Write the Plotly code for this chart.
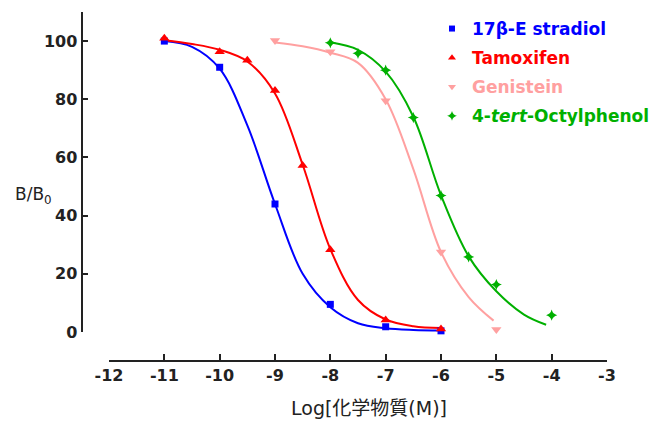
import plotly.graph_objects as go

# ---------------- data ----------------
series_names = [
    "<span style='color:#0000ff'>17β-E stradiol</span>",
    "<span style='color:#ff0000'>Tamoxifen</span>",
    "<span style='color:#ffa0a0'>Genistein</span>",
    "<span style='color:#00b000'>4-<i>tert</i>-Octylphenol</span>",
]

e2_x = [-11, -10, -9, -8, -7, -6]
e2_y = [100, 91, 44, 9.5, 1.8, 0.4]
e2_fit_x = [-11, -10.5, -10, -9.5, -9, -8.5, -8, -7.5, -7, -6.5, -6]
e2_fit_y = [100, 98, 90.5, 71, 44, 20, 8.5, 3, 1.3, 0.7, 0.5]

tam_x = [-11, -10, -9.5, -9, -8.5, -8, -7, -6]
tam_y = [101, 96.3, 93.4, 83, 57.2, 28.3, 4.1, 1]
tam_fit_x = [-11, -10.5, -10, -9.5, -9, -8.5, -8, -7.5, -7, -6.5, -6]
tam_fit_y = [100.3, 99, 97, 93, 82, 57.5, 28.5, 11, 4.3, 2, 1.4]

gen_x = [-9, -8, -7, -6, -5]
gen_y = [100.2, 96.3, 79.5, 27.5, 0.9]
gen_fit_x = [-9, -8.5, -8, -7.5, -7, -6.5, -6, -5.5, -5.05]
gen_fit_y = [99.5, 98.2, 96, 92.5, 80, 56, 27.5, 12, 3.9]

oct_x = [-8, -7.5, -7, -6.5, -6, -5.5, -5, -4]
oct_y = [99.4, 95.8, 90, 73.7, 46.9, 25.8, 16.3, 5.8]
oct_fit_x = [-8, -7.5, -7, -6.5, -6, -5.5, -5, -4.5, -4.1]
oct_fit_y = [99.6, 97, 89.5, 74, 47, 26, 14, 6, 2.5]

x_ticks = [-12, -11, -10, -9, -8, -7, -6, -5, -4, -3]
y_ticks = [0, 20, 40, 60, 80, 100]
y_end_tick = [110]

colors = ["#0000ff", "#ff0000", "#ffa0a0", "#00b000"]
symbols = ["square", "triangle-up", "triangle-down", "star-diamond"]
msize = [7, 9, 9, 8]
legsize = [6, 7, 7, 7]

pts = [(e2_x, e2_y), (tam_x, tam_y), (gen_x, gen_y), (oct_x, oct_y)]
fits = [(e2_fit_x, e2_fit_y), (tam_fit_x, tam_fit_y), (gen_fit_x, gen_fit_y), (oct_fit_x, oct_fit_y)]

W, H = 657, 421

fig = go.Figure()
for i in range(4):
    fx, fy = fits[i]
    fig.add_trace(go.Scatter(x=fx, y=fy, mode="lines", line=dict(color=colors[i], width=2, shape="spline"),
                             showlegend=False, hoverinfo="skip", cliponaxis=False))
for i in range(4):
    px_, py_ = pts[i]
    fig.add_trace(go.Scatter(x=px_, y=py_, mode="markers",
                             marker=dict(color=colors[i], symbol=symbols[i], size=msize[i], line=dict(width=0)),
                             showlegend=False, cliponaxis=False))
for i in range(4):
    fig.add_trace(go.Scatter(x=[None], y=[None], mode="markers", name=series_names[i],
                             legendgroup=f"g{i}",
                             marker=dict(color=colors[i], symbol=symbols[i], size=legsize[i], line=dict(width=0))))

fig.update_layout(
    width=W, height=H,
    margin=dict(l=0, r=0, t=0, b=0),
    paper_bgcolor="white", plot_bgcolor="white",
    font=dict(family="DejaVu Sans", color="#222222"),
    showlegend=True,
    legend=dict(x=432 / W, y=1 - 11 / H, xanchor="left", yanchor="top",
                font=dict(family="DejaVu Sans", size=17, weight="bold"),
                traceorder="grouped", tracegroupgap=4,
                bgcolor="rgba(0,0,0,0)", borderwidth=0),
    xaxis=dict(domain=[109 / W, 607 / W], range=[-12, -3], anchor="free", position=1 - 361 / H,
               showline=True, linecolor="#222222", linewidth=2, ticks="inside", ticklen=6, tickwidth=2,
               tickcolor="#222222", tickvals=x_ticks, ticktext=[str(v) for v in x_ticks],
               tickfont=dict(family="DejaVu Sans", size=16, weight="bold", color="#222222"),
               showgrid=False, zeroline=False, automargin=False),
    yaxis=dict(domain=[1 - 332 / H, 1 - 12 / H], range=[0, 110], anchor="free", position=81.5 / W,
               showline=True, linecolor="#222222", linewidth=2, ticks="inside", ticklen=5, tickwidth=2,
               tickcolor="#222222", tickvals=y_ticks, ticktext=[str(v) for v in y_ticks],
               minor=dict(tickvals=y_end_tick, ticks="inside", ticklen=5, tickwidth=2, tickcolor="#222222",
                          showgrid=False),
               tickfont=dict(family="DejaVu Sans", size=16, weight="bold", color="#222222"),
               showgrid=False, zeroline=False, automargin=False),
    annotations=[
        dict(text="B/B<sub>0</sub>", x=13 / W, y=1 - 195 / H, xref="paper", yref="paper",
             xanchor="left", yanchor="middle", showarrow=False,
             font=dict(family="DejaVu Sans", size=17, color="#222222")),
        dict(text="Log[化学物質(M)]", x=369 / W, y=1 - 408 / H, xref="paper", yref="paper",
             xanchor="center", yanchor="middle", showarrow=False,
             font=dict(family="DejaVu Sans, Noto Sans CJK JP", size=19, color="#222222")),
    ],
)

fig.write_html("out.html")
